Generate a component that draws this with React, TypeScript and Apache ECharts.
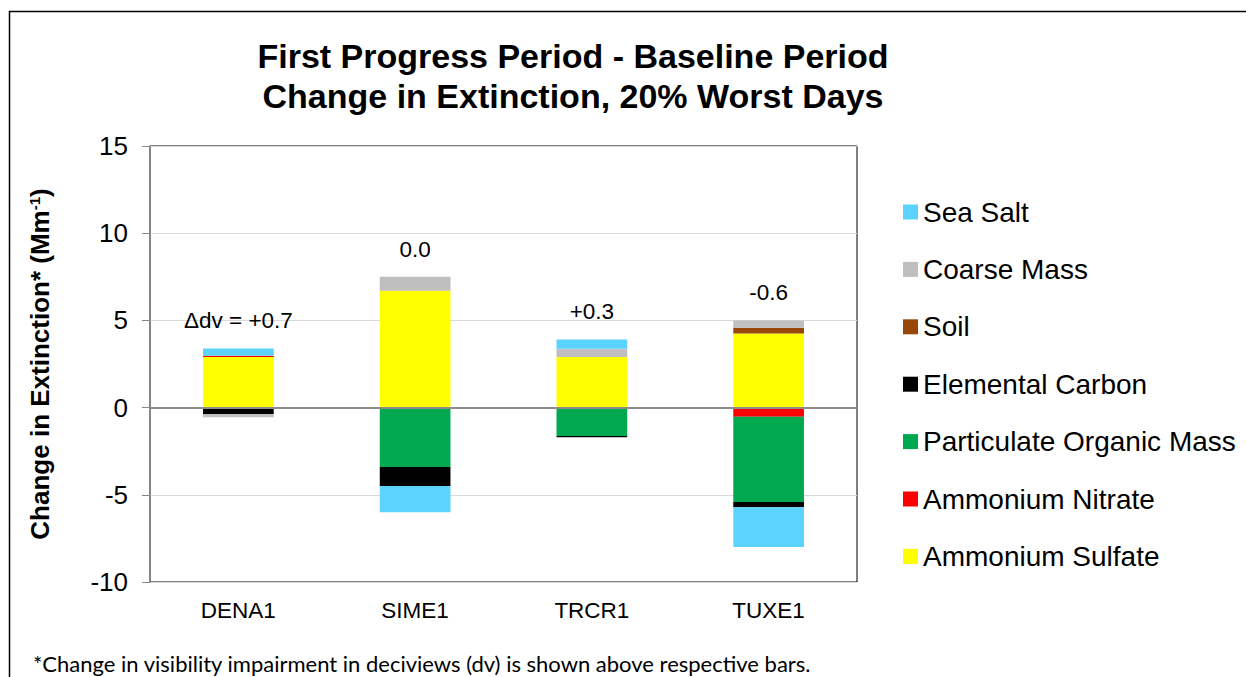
import React, { useEffect, useRef } from "react";
import * as echarts from "echarts";

const categories = ["DENA1", "SIME1", "TRCR1", "TUXE1"];
const ammoniumSulfate = [2.9, 6.7, 2.9, 4.25];
const ammoniumNitrate = [0.08, 0, -0.05, -0.52];
const organicMass = [-0.06, -3.4, -1.58, -4.9];
const elementalCarbon = [-0.3, -1.1, -0.07, -0.29];
const soil = [0, 0, 0, 0.33];
const coarseMass = [-0.2, 0.8, 0.48, 0.42];
const seaSalt = [0.41, -1.5, 0.53, -2.29];
const dvLabels = ["\u0394dv = +0.7", "0.0", "+0.3", "-0.6"];
const yTicks = [-10, -5, 0, 5, 10, 15];

const seriesDefs = [
  { name: "Ammonium Sulfate", data: ammoniumSulfate, color: "#FFFF00" },
  { name: "Ammonium Nitrate", data: ammoniumNitrate, color: "#FF0000" },
  { name: "Particulate Organic Mass", data: organicMass, color: "#00A84F" },
  { name: "Elemental Carbon", data: elementalCarbon, color: "#000000" },
  { name: "Soil", data: soil, color: "#974706" },
  { name: "Coarse Mass", data: coarseMass, color: "#BFBFBF" },
  { name: "Sea Salt", data: seaSalt, color: "#5CD3FF" },
];

export default function App() {
  const ref = useRef<HTMLDivElement>(null);
  useEffect(() => {
    if (!ref.current) return;
    const chart = echarts.init(ref.current, null, { renderer: "svg" });
    const posTotals = categories.map((_, i) =>
      seriesDefs.reduce((s, d) => s + Math.max(0, d.data[i]), 0)
    );
    const font = "Liberation Sans, Arial, sans-serif";
    const option: any = {
      animation: false,
      backgroundColor: "#fff",
      textStyle: { fontFamily: font },
      title: {
        text: "First Progress Period - Baseline Period\nChange in Extinction, 20% Worst Days",
        left: 568,
        top: 31,
        textAlign: "center",
        textStyle: {
          fontFamily: font,
          fontSize: 34,
          fontWeight: "bold",
          color: "#000",
          lineHeight: 40,
        },
      },
      grid: {
        left: 150,
        top: 146,
        right: 389,
        bottom: 95,
        show: true,
        borderColor: "#000",
        borderWidth: 1,
        backgroundColor: "transparent",
      },
      legend: {
        orient: "vertical",
        left: 898,
        top: 193,
        itemWidth: 15,
        itemHeight: 15,
        itemGap: 29.4,
        icon: "rect",
        data: seriesDefs.map((d) => d.name).reverse(),
        textStyle: { fontFamily: font, fontSize: 28, color: "#000", lineHeight: 28 },
      },
      xAxis: {
        type: "category",
        data: categories,
        axisLine: { show: false },
        axisTick: { show: false },
        axisLabel: { fontFamily: font, fontSize: 22.5, color: "#000", margin: 17 },
      },
      yAxis: {
        type: "value",
        min: -10,
        max: 15,
        interval: 5,
        axisLine: { show: true, lineStyle: { color: "#888", width: 1.5 } },
        axisTick: { show: true, length: 8, lineStyle: { color: "#888" } },
        axisLabel: {
          fontFamily: font,
          fontSize: 26,
          color: "#000",
          margin: 22,
          formatter: (v: number) => (yTicks.includes(v) ? String(v) : ""),
        },
        splitLine: { show: true, lineStyle: { color: "#D9D9D9", width: 1 } },
        name: "{b|Change in Extinction* (Mm}{s|-1}{b|)}",
        nameLocation: "middle",
        nameGap: 97,
        nameRotate: 90,
        nameTextStyle: {
          rich: {
            b: { fontFamily: font, fontSize: 26, fontWeight: "bold", color: "#000" },
            s: {
              fontFamily: font,
              fontSize: 15,
              fontWeight: "bold",
              color: "#000",
              verticalAlign: "top",
              padding: [0, 0, 10, 0],
            },
          },
        },
      },
      series: [
        ...seriesDefs.map((d, idx) => ({
          name: d.name,
          type: "bar",
          stack: "total",
          barWidth: "40%",
          data: d.data,
          itemStyle: { color: d.color },
          ...(idx === 0
            ? {
                markLine: {
                  silent: true,
                  symbol: "none",
                  label: { show: false },
                  lineStyle: { color: "#8C8C8C", width: 2, type: "solid" },
                  data: [{ yAxis: 0 }],
                },
              }
            : {}),
        })),
        {
          name: "dv",
          type: "scatter",
          symbolSize: 0,
          data: posTotals,
          itemStyle: { opacity: 1 },
          label: {
            show: true,
            position: "top",
            distance: 16,
            fontFamily: font,
            fontSize: 22.5,
            color: "#000",
            opacity: 1,
            formatter: (p: any) => dvLabels[p.dataIndex],
          },
          z: 5,
        },
      ],
      graphic: [
        {
          type: "rect",
          shape: { x: 9.5, y: 11.5, width: 1300, height: 800 },
          style: { fill: "none", stroke: "#000", lineWidth: 1.5 },
          silent: true,
        },
        {
          type: "text",
          left: 33,
          top: 652,
          style: {
            text: "*Change in visibility impairment in deciviews (dv) is shown above respective bars.",
            fontFamily: "Lato, 'Open Sans', sans-serif",
            fontSize: 22,
            fill: "#000",
          },
        },
      ],
    };
    chart.setOption(option);
    return () => chart.dispose();
  }, []);
  return (
    <div
      ref={ref}
      style={{ position: "fixed", left: 0, top: 0, width: 1246, height: 677 }}
    />
  );
}
